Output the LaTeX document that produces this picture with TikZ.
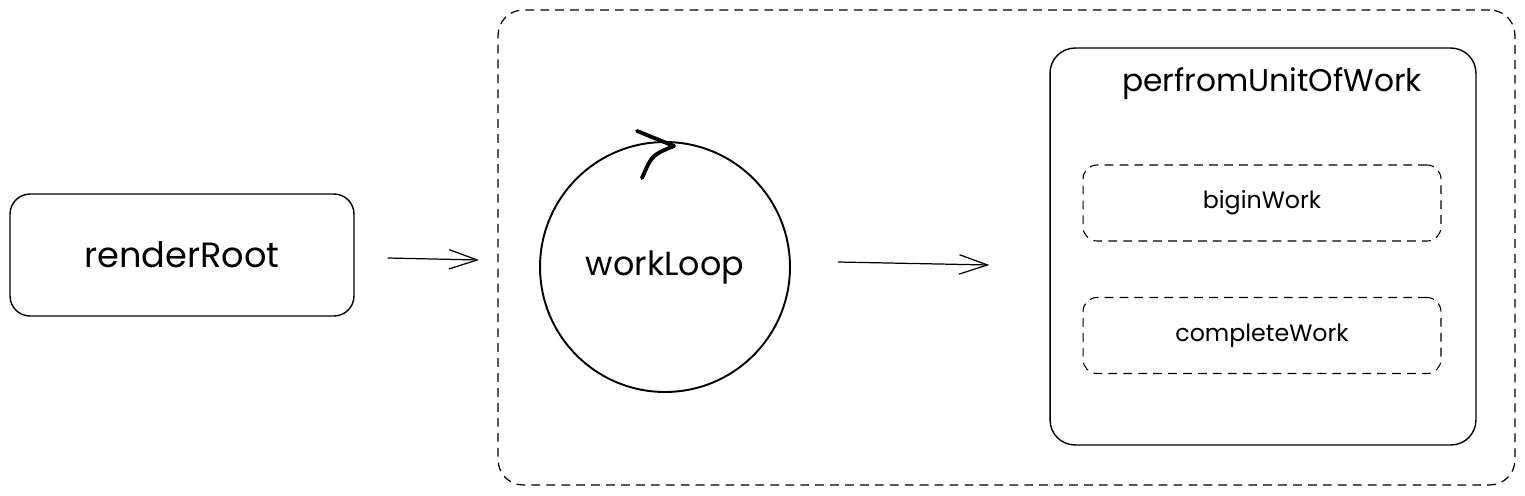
\documentclass[tikz,border=0pt]{standalone}
\usepackage{fontspec}
\setmainfont{Poppins}
\usepackage{xcolor}
\usetikzlibrary{arrows.meta}

\begin{document}
\begin{tikzpicture}[x=0.02cm, y=-0.02cm,
    box/.style={draw, line width=0.8pt, rounded corners=0.4cm, inner sep=0pt},
    subbox/.style={draw, line width=0.6pt, dash pattern=on 5pt off 3.5pt, rounded corners=0.28cm,
        minimum width=7.16cm, minimum height=1.52cm, font=\fontsize{13.5}{16}\selectfont},
    flow/.style={-{Straight Barb[length=16pt, width=11pt, line width=0.7pt]}, line width=0.7pt}]
    \useasboundingbox (0,0) rectangle (1525,495);

    % outer frame
    \node[box, dash pattern=on 5pt off 3.5pt, rounded corners=0.5cm, line width=0.7pt,
        minimum width=20.34cm, minimum height=9.5cm] (frame) at (1006.5,247.5) {};

    \node[box, minimum width=6.88cm, minimum height=2.44cm,
        font=\fontsize{20}{24}\selectfont] (root) at (182,255) {renderRoot};
    \node[draw, circle, line width=1.1pt, minimum size=5cm,
        font=\fontsize{19}{23}\selectfont] (loop) at (665,267) {workLoop};

    % loop mark
    \draw[line width=2.2pt, line cap=round, line join=round]
        (637,131) -- (674,146) .. controls (652,155) .. (642,178);

    % unit of work
    \node[box, rounded corners=0.5cm, minimum width=8.52cm, minimum height=7.94cm] (unit) at (1263,246.5) {};
    \node[font=\fontsize{17.8}{21}\selectfont] (title) at (1272,84) {perfromUnitOfWork};
    \node[subbox] (begin) at (1262,203) {biginWork};
    \node[subbox] (complete) at (1262,335.5) {completeWork};

    \draw[flow] ([xshift=0.66cm, yshift=-0.06cm]root.east) -- ([xshift=-1.2cm, yshift=0.14cm]loop.west);
    \draw[flow] ([xshift=0.94cm, yshift=0.1cm]loop.east) -- ([xshift=-1.2cm, yshift=-0.37cm]unit.west);
\end{tikzpicture}
\end{document}
